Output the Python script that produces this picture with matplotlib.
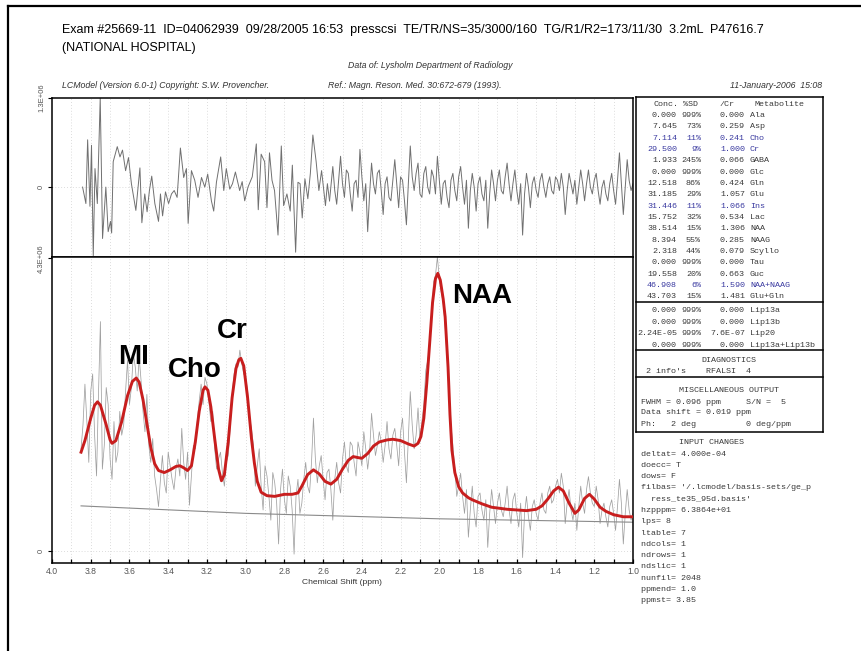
"""LCModel spectrum fit report: residual, data + fit, and concentration table."""

import matplotlib
matplotlib.use("Agg")
import matplotlib.pyplot as plt
from matplotlib.lines import Line2D
import numpy as np

W, H = 862, 651

# ---- spectrum (ppm grid of the sampled data, step 0.01 ppm) ----
DATA_PPM = np.round(np.arange(3.85, 0.995, -0.01), 2)

# measured data, units of 1E6
DATA_VAL = [
    1.50, 1.85, 2.45, 1.90, 1.30, 2.35, 2.60, 1.70, 1.10, 2.30,
    3.37, 1.20, 1.55, 2.40, 2.15, 1.35, 1.05, 1.90, 1.30, 1.45,
    2.05, 1.70, 1.85, 2.35, 2.80, 2.15, 2.40, 2.90, 2.70, 2.35,
    2.85, 2.50, 2.05, 1.75, 2.30, 1.55, 1.30, 1.65, 1.10, 0.90,
    0.65, 1.05, 1.40, 1.00, 0.85, 1.45, 1.25, 1.05, 0.90, 1.20,
    1.35, 1.10, 1.80, 1.30, 1.05, 1.45, 0.67, 1.10, 1.55, 1.50,
    1.90, 2.20, 2.45, 2.15, 2.55, 2.45, 2.20, 1.90, 2.05, 1.50,
    1.20, 1.35, 1.45, 1.15, 0.95, 1.30, 1.40, 1.80, 2.30, 2.60,
    2.75, 2.70, 2.95, 2.75, 2.60, 2.55, 2.35, 1.95, 1.80, 1.55,
    0.95, 1.25, 1.50, 0.95, 0.60, 1.25, 1.10, 0.80, 0.45, 1.15,
    1.00, 0.70, 0.10, 0.90, 1.20, 0.75, 0.55, 1.10, 0.95, 0.60,
    -0.05, 0.80, 1.05, 0.55, 0.70, 1.05, 1.30, 0.95, 0.85, 1.30,
    1.95, 1.35, 1.00, 1.25, 1.40, 1.05, 0.75, 1.15, 1.20, 0.90,
    0.45, 1.05, 1.30, 1.00, 0.85, 1.35, 1.60, 1.25, 1.15, 1.60,
    1.55, 1.30, 1.10, 1.60, 1.45, 1.25, 1.75, 1.50, 1.20, 1.45,
    2.02, 1.70, 1.40, 1.55, 1.75, 1.60, 1.30, 1.55, 1.90, 1.50,
    1.35, 1.70, 1.80, 1.55, 1.25, 1.75, 1.95, 1.45, 1.00, 1.65,
    2.34, 1.85, 1.50, 1.70, 2.10, 1.60, 1.90, 2.15, 2.65, 2.80,
    3.00, 3.45, 3.95, 4.05, 4.32, 4.00, 3.80, 3.65, 3.30, 2.85,
    2.30, 1.85, 1.55, 1.20, 0.80, 0.95, 1.14, 0.80, 0.55, 0.90,
    0.20, 0.60, 0.95, 0.55, 0.35, 0.80, 0.85, 0.60, 0.45, 0.75,
    0.05, 0.55, 0.90, 0.65, 0.40, 0.70, 0.85, 0.60, 0.50, 0.70,
    0.95, 0.60, 0.40, 0.75, 0.85, 0.55, 0.35, 0.70, -0.10, 0.55,
    0.80, 0.50, 0.30, 0.65, 0.75, 0.55, 0.45, 0.70, 0.85, 0.60,
    0.55, 0.85, 0.95, 0.70, 0.75, 0.95, 1.05, 0.85, 1.14, 0.95,
    0.40, 0.70, 0.90, 0.60, 0.45, 0.70, 0.30, 0.65, 0.95, 0.70,
    0.55, 0.90, 1.09, 0.85, 0.70, 0.65, 0.95, 0.75, 0.40, 0.60,
    0.70, 0.50, 0.35, 0.65, 0.75, 0.55, 0.30, 0.65, 1.05, 0.70,
    0.10, 0.55, 0.90, 0.60, 0.45, 0.55,
]

# residual (data - fit), units of 1E6; left part read point by point
RESID_PPM_LEFT = [
    3.842, 3.825, 3.816, 3.804, 3.796, 3.787, 3.778, 3.766, 3.751, 3.739,
    3.722, 3.710, 3.698, 3.692, 3.684, 3.663, 3.649, 3.636, 3.620, 3.605,
    3.590, 3.567, 3.546, 3.536, 3.521, 3.509, 3.497, 3.485, 3.469, 3.450,
    3.440, 3.429, 3.414, 3.398, 3.383, 3.369, 3.354, 3.337, 3.320, 3.306,
    3.297, 3.280, 3.263, 3.246, 3.228, 3.211, 3.196, 3.177, 3.165, 3.151,
    3.129, 3.113, 3.100, 3.082, 3.068, 3.053, 3.031, 3.018, 3.005, 2.988,
    2.966, 2.945, 2.935, 2.920, 2.902, 2.890, 2.877, 2.864, 2.851, 2.833,
    2.816, 2.804, 2.787, 2.770, 2.759, 2.742, 2.730, 2.719, 2.708, 2.694,
    2.679, 2.666, 2.653, 2.636, 2.622, 2.608, 2.588, 2.578, 2.567,
]
RESID_VAL_LEFT = [
    0.00, -0.24, 0.69, -0.28, 0.61, -1.00, 0.27, -0.24, 1.30, -0.75,
    0.00, -0.65, -0.50, -0.67, 0.37, 0.59, 0.44, 0.54, 0.24, 0.43,
    0.05, -0.34, 0.28, -0.52, -0.10, -0.36, -0.05, 0.16, -0.24, -0.50,
    -0.10, -0.42, -0.07, -0.24, -0.10, -0.05, -0.15, 0.57, 0.14, 0.27,
    -0.53, 0.24, 0.10, -0.15, 0.14, 0.00, 0.19, -0.20, -0.35, 0.07,
    0.44, -0.05, 0.27, -0.03, 0.05, 0.22, -0.05, 0.08, -0.20, 0.00,
    0.15, 0.63, -0.33, 0.48, 0.37, -0.30, 0.50, 0.10, -0.05, -0.70,
    0.60, -0.27, -0.10, -0.35, 0.32, -0.95, 0.07, 0.05, -0.45, 0.12,
    -0.17, 0.20, 0.76, 0.37, -0.05, 0.24, -0.27, 0.05, -0.20,
]
# right part on a 0.01 ppm grid, 2.55 -> 1.00
RESID_PPM_RIGHT = np.round(np.arange(2.55, 0.995, -0.01), 2)
RESID_VAL_RIGHT = [
    0.30, -0.05, -0.25, 0.10, 0.45, 0.05, -0.15, 0.25, 0.20, -0.10,
    -0.35, 0.05, 0.10, -0.15, 0.55, 0.15, -0.20, 0.05, -0.65, -0.10,
    0.35, 0.05, -0.10, 0.20, 0.25, -0.05, -0.40, 0.05, 0.15, -0.15,
    -0.20, 0.10, 0.40, 0.05, -0.30, 0.15, 0.10, -0.20, -0.55, 0.05,
    0.60, 0.15, -0.05, 0.20, 0.35, -0.10, -0.15, 0.20, 0.30, 0.00,
    -0.10, 0.25, 0.15, -0.10, 0.45, 0.10, -0.25, 0.05, 0.10, -0.15,
    -0.30, 0.10, 0.20, -0.05, -0.20, 0.15, 0.30, 0.00, -0.25, 0.10,
    -0.60, -0.05, 0.20, 0.00, -0.35, 0.05, 0.15, -0.10, -0.20, 0.10,
    -0.60, -0.10, 0.25, 0.05, -0.20, 0.10, 0.25, -0.05, -0.10, 0.15,
    0.35, 0.05, -0.20, 0.05, 0.25, -0.05, -0.25, 0.05, -0.70, -0.10,
    0.20, 0.00, -0.30, 0.05, 0.15, -0.05, -0.15, 0.10, 0.20, 0.00,
    -0.15, 0.05, 0.15, -0.05, -0.10, 0.15, 0.10, -0.05, 0.20, 0.00,
    -0.40, -0.05, 0.20, 0.05, -0.10, 0.10, -0.25, 0.00, 0.25, 0.05,
    -0.20, 0.05, 0.25, 0.00, -0.10, 0.10, 0.20, -0.05, -0.25, 0.00,
    0.10, -0.10, -0.20, 0.05, 0.20, -0.05, -0.25, 0.10, 0.50, 0.05,
    -0.40, 0.00, 0.40, 0.10, -0.05, 0.05,
]

# LCModel fit (red)
FIT_PPM = [
    3.85, 3.83, 3.80, 3.78, 3.765, 3.75, 3.72, 3.70, 3.69, 3.67, 3.64, 3.61,
    3.585, 3.565, 3.55, 3.53, 3.51, 3.49, 3.47, 3.45, 3.42, 3.39, 3.36, 3.34,
    3.32, 3.30, 3.28, 3.26, 3.24, 3.22, 3.21, 3.195, 3.18, 3.16, 3.14, 3.125,
    3.11, 3.09, 3.07, 3.05, 3.035, 3.025, 3.01, 2.99, 2.97, 2.955, 2.94, 2.92,
    2.89, 2.85, 2.80, 2.76, 2.73, 2.71, 2.68, 2.65, 2.62, 2.59, 2.56, 2.53,
    2.50, 2.47, 2.445, 2.42, 2.40, 2.37, 2.34, 2.31, 2.27, 2.24, 2.20, 2.16,
    2.13, 2.11, 2.095, 2.08, 2.065, 2.05, 2.035, 2.02, 2.008, 1.995, 1.98, 1.97,
    1.955, 1.945, 1.935, 1.92, 1.90, 1.88, 1.85, 1.83, 1.78, 1.73, 1.65, 1.55,
    1.50, 1.47, 1.44, 1.41, 1.385, 1.36, 1.33, 1.30, 1.28, 1.25, 1.225, 1.20,
    1.17, 1.14, 1.10, 1.05, 1.00,
]
FIT_VAL = [
    1.45, 1.62, 1.95, 2.14, 2.19, 2.14, 1.85, 1.63, 1.58, 1.62, 1.90, 2.28,
    2.49, 2.54, 2.48, 2.22, 1.87, 1.52, 1.28, 1.18, 1.15, 1.19, 1.24, 1.25,
    1.22, 1.18, 1.25, 1.60, 2.05, 2.36, 2.41, 2.36, 2.12, 1.65, 1.20, 1.03,
    1.12, 1.60, 2.25, 2.68, 2.81, 2.83, 2.72, 2.25, 1.65, 1.29, 1.02, 0.86,
    0.81, 0.80, 0.83, 0.83, 0.85, 0.95, 1.12, 1.19, 1.13, 1.02, 0.98, 1.05,
    1.20, 1.33, 1.385, 1.37, 1.36, 1.43, 1.54, 1.60, 1.63, 1.64, 1.62, 1.57,
    1.54, 1.58, 1.68, 1.95, 2.46, 3.05, 3.65, 4.00, 4.08, 3.98, 3.70, 3.44,
    2.70, 2.00, 1.48, 1.15, 0.94, 0.85, 0.78, 0.75, 0.69, 0.64, 0.61, 0.59,
    0.61, 0.66, 0.76, 0.88, 0.935, 0.88, 0.70, 0.55, 0.60, 0.77, 0.83, 0.76,
    0.64, 0.58, 0.53, 0.50, 0.50,
]

BASE_PPM = [3.85, 3.0, 2.0, 1.0]
BASE_VAL = [0.66, 0.55, 0.47, 0.42]

PEAK_LABELS = ["MI", "Cho", "Cr", "NAA"]
PEAK_PPM = [3.577, 3.263, 3.067, 1.778]
PEAK_Y = [2.85, 2.66, 3.23, 3.74]

# ---- concentration table ----
METAB = ["Ala", "Asp", "Cho", "Cr", "GABA", "Glc", "Gln", "Glu", "Ins", "Lac",
         "NAA", "NAAG", "Scyllo", "Tau", "Guc", "NAA+NAAG", "Glu+Gln"]
CONC = ["0.000", "7.645", "7.114", "29.500", "1.933", "0.000", "12.518",
        "31.185", "31.446", "15.752", "38.514", "8.394", "2.318", "0.000",
        "19.558", "46.908", "43.703"]
SD = ["999%", "73%", "11%", "9%", "245%", "999%", "86%", "29%", "11%", "32%",
      "15%", "55%", "44%", "999%", "20%", "6%", "15%"]
RATIO = ["0.000", "0.259", "0.241", "1.000", "0.066", "0.000", "0.424",
         "1.057", "1.066", "0.534", "1.306", "0.285", "0.079", "0.000",
         "0.663", "1.590", "1.481"]
HIGHLIGHT = {"Cho", "Cr", "Ins", "NAA+NAAG"}

LIP_NAME = ["Lip13a", "Lip13b", "Lip20", "Lip13a+Lip13b"]
LIP_CONC = ["0.000", "0.000", "2.24E-05", "0.000"]
LIP_SD = ["999%", "999%", "999%", "999%"]
LIP_RATIO = ["0.000", "0.000", "7.6E-07", "0.000"]

MISC_LINES = [
    "FWHM = 0.096 ppm     S/N =  5",
    "Data shift = 0.019 ppm",
    "Ph:   2 deg          0 deg/ppm",
]
INPUT_LINES = [
    "deltat= 4.000e-04",
    "doecc= T",
    "dows= F",
    "filbas= '/.lcmodel/basis-sets/ge_p",
    "  ress_te35_95d.basis'",
    "hzpppm= 6.3864e+01",
    "lps= 8",
    "ltable= 7",
    "ndcols= 1",
    "ndrows= 1",
    "ndslic= 1",
    "nunfil= 2048",
    "ppmend= 1.0",
    "ppmst= 3.85",
]

X_TICKS = [4.0, 3.8, 3.6, 3.4, 3.2, 3.0, 2.8, 2.6, 2.4, 2.2, 2.0, 1.8, 1.6, 1.4, 1.2, 1.0]

SANS = ["Liberation Sans Narrow", "Liberation Sans", "DejaVu Sans"]
MONO = ["Liberation Mono", "DejaVu Sans Mono"]
TXT = "#3a3a3a"
BLUE = "#3a3aa0"


def fx(px):
    return px / W


def fy(py):
    return 1 - py / H


def style_axis(ax, ylim, yticks, ylabels):
    ax.set_xlim(4.0, 1.0)
    ax.set_ylim(*ylim)
    ax.set_yticks(yticks)
    ax.set_yticklabels(ylabels, rotation=90, va="center", fontsize=5.5,
                       color="#555555", family=SANS)
    ax.tick_params(axis="y", direction="out", length=3, width=0.8, pad=2)
    for x in np.arange(3.9, 1.0, -0.1):
        ax.axvline(x, color="#d0d0d0", lw=0.6, ls=(0, (1, 2.5)), zorder=0)
    ax.axhline(0, color="#d0d0d0", lw=0.6, ls=(0, (1, 2.5)), zorder=0)
    for s in ax.spines.values():
        s.set_linewidth(1.1)


def main():
    fig = plt.figure(figsize=(W / 100, H / 100), dpi=100)

    # page frame (top and left edges)
    fig.add_artist(Line2D([fx(8), 1], [fy(6), fy(6)], color="black", lw=1.6))
    fig.add_artist(Line2D([fx(8), fx(8)], [fy(6), 0], color="black", lw=1.6))

    left, right = 52, 633
    ax_r = fig.add_axes([fx(left), fy(257), (right - left) / W, (257 - 98) / H])
    ax_m = fig.add_axes([fx(left), fy(563), (right - left) / W, (563 - 257) / H])

    # residual panel
    style_axis(ax_r, (-1.02, 1.30), [0, 1.3], ["0", "1.3E+06"])
    ax_r.plot(RESID_PPM_LEFT, RESID_VAL_LEFT, color="#707070", lw=0.7)
    ax_r.plot(np.r_[RESID_PPM_LEFT[-1], RESID_PPM_RIGHT],
              np.r_[RESID_VAL_LEFT[-1], RESID_VAL_RIGHT],
              color="#707070", lw=0.7)
    ax_r.set_xticks([])

    # data + fit panel
    style_axis(ax_m, (-0.18, 4.32), [0, 4.3], ["0", "4.3E+06"])
    ax_m.plot(DATA_PPM, DATA_VAL, color="#a0a0a0", lw=0.55, zorder=2)
    ax_m.plot(BASE_PPM, BASE_VAL, color="#8a8a8a", lw=0.8, zorder=2)
    ax_m.plot(FIT_PPM, FIT_VAL, color="#c81e1e", lw=2.1, zorder=3)
    ax_m.set_xticks(X_TICKS)
    ax_m.set_xticks(np.arange(3.9, 1.0, -0.2), minor=True)
    ax_m.set_xticklabels([f"{t:.1f}" for t in X_TICKS], fontsize=6.2,
                         color="#555555", family=SANS)
    ax_m.tick_params(axis="x", which="both", direction="in", length=3,
                     width=0.9, pad=3)
    ax_m.set_xlabel("Chemical Shift (ppm)", fontsize=6.1, color="#333333",
                    family=SANS, labelpad=2)

    for lab, xp, yp in zip(PEAK_LABELS, PEAK_PPM, PEAK_Y):
        ax_m.text(xp, yp, lab, ha="center", va="center", fontsize=20,
                  fontweight="bold", family=["Liberation Sans", "DejaVu Sans"])

    # header
    fig.text(fx(62), fy(30),
             "Exam #25669-11  ID=04062939  09/28/2005 16:53  presscsi  "
             "TE/TR/NS=35/3000/160  TG/R1/R2=173/11/30  3.2mL  P47616.7",
             fontsize=9, family=SANS, va="center")
    fig.text(fx(62), fy(48), "(NATIONAL HOSPITAL)", fontsize=9, family=SANS,
             va="center")
    fig.text(fx(430), fy(66), "Data of: Lysholm Department of Radiology",
             fontsize=6.3, style="italic", family=SANS, ha="center",
             va="center", color="#333333")
    fig.text(fx(62), fy(85), "LCModel (Version 6.0-1) Copyright: S.W. Provencher.",
             fontsize=6.3, style="italic", family=SANS, va="center",
             color="#333333")
    fig.text(fx(328), fy(85), "Ref.: Magn. Reson. Med. 30:672-679 (1993).",
             fontsize=6.3, style="italic", family=SANS, va="center",
             color="#333333")
    fig.text(fx(822), fy(85), "11-January-2006  15:08", fontsize=6.3,
             style="italic", family=SANS, ha="right", va="center",
             color="#333333")

    # table boxes
    bx0, bx1 = 636, 823
    box_lines = [97, 302, 350, 377, 432]
    for yl in box_lines:
        fig.add_artist(Line2D([fx(bx0), fx(bx1)], [fy(yl), fy(yl)],
                              color="black", lw=1.1))
    for xl in (bx0, bx1):
        fig.add_artist(Line2D([fx(xl), fx(xl)], [fy(97), fy(432)],
                              color="black", lw=1.1))

    mono = dict(fontsize=6.0, family=MONO, va="center")
    c_conc, c_sd, c_cr, c_name = 677, 701, 745, 750
    y0, dy = 104, 11.35
    fig.text(fx(c_conc + 2), fy(y0), "Conc.", ha="right", color=TXT, **mono)
    fig.text(fx(c_sd - 3), fy(y0), "%SD", ha="right", color=TXT, **mono)
    fig.text(fx(720), fy(y0), "/Cr", ha="left", color=TXT, **mono)
    fig.text(fx(755), fy(y0), "Metabolite", ha="left", color=TXT, **mono)
    for i, (n, c, s, r) in enumerate(zip(METAB, CONC, SD, RATIO)):
        yy = fy(y0 + dy * (i + 1))
        col = BLUE if n in HIGHLIGHT else TXT
        fig.text(fx(c_conc), yy, c, ha="right", color=col, **mono)
        fig.text(fx(c_sd), yy, s, ha="right", color=col, **mono)
        fig.text(fx(c_cr), yy, r, ha="right", color=col, **mono)
        fig.text(fx(c_name), yy, n, ha="left", color=col, **mono)

    ly0 = 311
    for i, (n, c, s, r) in enumerate(zip(LIP_NAME, LIP_CONC, LIP_SD, LIP_RATIO)):
        yy = fy(ly0 + dy * i)
        fig.text(fx(c_conc), yy, c, ha="right", color=TXT, **mono)
        fig.text(fx(c_sd), yy, s, ha="right", color=TXT, **mono)
        fig.text(fx(c_cr), yy, r, ha="right", color=TXT, **mono)
        fig.text(fx(c_name), yy, n, ha="left", color=TXT, **mono)

    fig.text(fx(729), fy(361), "DIAGNOSTICS", ha="center", color=TXT, **mono)
    fig.text(fx(646), fy(371), "2 info's    RFALSI  4", ha="left", color=TXT, **mono)

    fig.text(fx(729), fy(391), "MISCELLANEOUS OUTPUT", ha="center", color=TXT, **mono)
    for i, line in enumerate(MISC_LINES):
        fig.text(fx(641), fy(402 + 11 * i), line, ha="left", color=TXT, **mono)

    fig.text(fx(712), fy(443), "INPUT CHANGES", ha="center", color=TXT, **mono)
    for i, line in enumerate(INPUT_LINES):
        fig.text(fx(641), fy(454 + 11.3 * i), line, ha="left", color=TXT, **mono)

    fig.savefig("out.png", dpi=100, facecolor="white")


if __name__ == "__main__":
    main()
